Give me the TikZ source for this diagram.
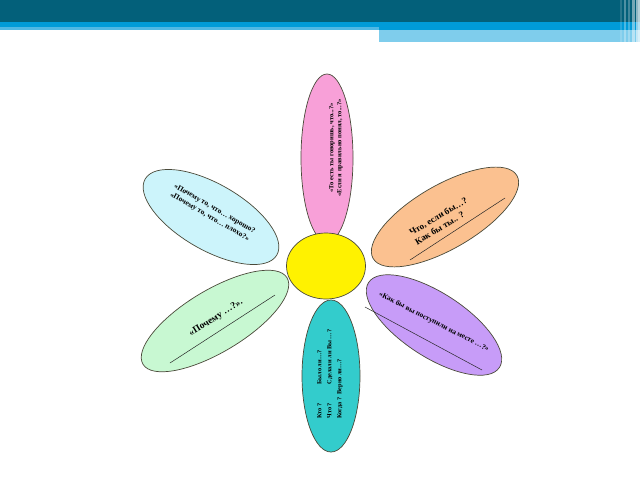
\documentclass[tikz,border=0pt]{standalone}
\usepackage{fontspec}
\setmainfont{Liberation Serif}
\usetikzlibrary{shapes.geometric}
\definecolor{hdark}{HTML}{03607A}
\definecolor{hblue}{HTML}{009BD8}
\definecolor{hlight}{HTML}{7FCDEC}
\definecolor{hmid}{HTML}{4FB8E4}
\definecolor{cpink}{HTML}{F8A0D8}
\definecolor{cblue}{HTML}{CCF4FB}
\definecolor{corange}{HTML}{FBC190}
\definecolor{cgreen}{HTML}{C8F8D2}
\definecolor{cteal}{HTML}{33CCCC}
\definecolor{cpurple}{HTML}{C79CF8}
\definecolor{edge}{HTML}{4A4A3A}
\begin{document}
\begin{tikzpicture}[x=1pt,y=-1pt,
  petal/.style={ellipse, draw=edge, line width=0.7pt, inner sep=0pt},
  ptext/.style={align=center, inner sep=0pt},
  wline/.style={draw=black!85, line width=0.5pt}]
\useasboundingbox (0,0) rectangle (640,480);
\fill[white] (0,0) rectangle (640,480);
% header
\fill[hdark] (0,0) rectangle (640,22);
\fill[hblue] (0,22) rectangle (640,30);
\fill[hmid] (0,27) rectangle (379,30);
\fill[hlight] (379,30) rectangle (640,42);
\foreach \xa/\xb/\op in {620/622/0.15, 624/626/0.3, 628/630/0.25, 632/635/0.45, 636/638/0.55, 638/640/0.7}
  \fill[white, opacity=\op] (\xa,0) rectangle (\xb,42);
% petals
\node[petal, fill=cpink, minimum width=168, minimum height=52, rotate=90] (pink) at (327,158) {};
\node[petal, fill=cblue, minimum width=152, minimum height=66, rotate=-30] (lblue) at (211,217) {};
\node[petal, fill=corange, minimum width=166, minimum height=64, rotate=30] (orange) at (445,217) {};
\node[petal, fill=cgreen, minimum width=168, minimum height=62, rotate=31] (green) at (215,321) {};
\node[petal, fill=cteal, minimum width=152, minimum height=58, rotate=90] (teal) at (331,376) {};
\node[petal, fill=cpurple, minimum width=156, minimum height=64, rotate=-33] (purple) at (434,325) {};
\node[petal, fill=yellow, minimum width=79, minimum height=66] (core) at (326,266) {};
% texts
\node[ptext, rotate=90, font=\bfseries\fontsize{6.5}{8}\selectfont] (tpink) at (336,148)
  {«То есть ты говоришь, что...?»\\«Если я правильно понял, то...?»};
\node[ptext, rotate=-30, font=\bfseries\fontsize{7.5}{9.5}\selectfont] (tblue) at (212,213)
  {«Почему то, что… хорошо?\\«Почему то, что… плохо?»};
\node[ptext, rotate=31, align=left, font=\bfseries\fontsize{9}{11}\selectfont] (torange) at (441,221)
  {Что, если бы…?\\Как бы ты.. ?};
\node[ptext, rotate=32, font=\bfseries\fontsize{9.5}{11}\selectfont] (tgreen) at (216,318)
  {«Почему …?».};
\node[ptext, rotate=-27, font=\bfseries\fontsize{7.3}{9}\selectfont] (tpurple) at (434,322)
  {«Как бы вы поступили на месте …?»};
\node[ptext, rotate=90, align=left, font=\bfseries\fontsize{6.3}{10}\selectfont] (tteal) at (330,374)
  {\makebox[34pt][l]{Кто ?}Было ли…?\\\makebox[34pt][l]{Что ?}Сделали ли Вы …?\\\makebox[24pt][l]{Когда ?}Верно ли…?};
% writing lines
\coordinate (o1) at (410,260); \coordinate (o2) at (505,198);
\draw[wline] (o1) -- (o2);
\coordinate (g1) at (170,363); \coordinate (g2) at (275,295);
\draw[wline] (g1) -- (g2);
\coordinate (p1) at (365,307); \coordinate (p2) at (482,370);
\draw[wline] (p1) -- (p2);
\end{tikzpicture}
\end{document}
